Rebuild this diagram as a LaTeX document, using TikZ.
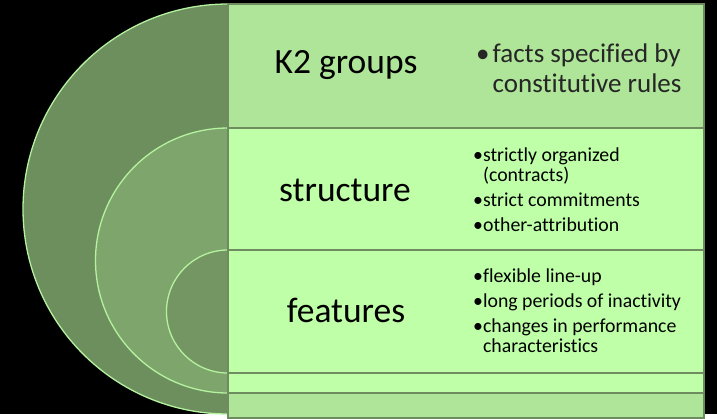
\documentclass[tikz,border=0pt]{standalone}
\usepackage{fontspec}
\setmainfont{Carlito}[Ligatures=NoCommon]
\usetikzlibrary{positioning}
\definecolor{ringdark}{HTML}{6D8F5E}
\definecolor{ringmid}{HTML}{7EA66C}
\definecolor{ringin}{HTML}{749663}
\definecolor{ringline}{HTML}{B5F29F}
\definecolor{barfill}{HTML}{AEE598}
\definecolor{barlight}{HTML}{BEFFA8}
\definecolor{barline}{HTML}{6E8C5F}

\begin{document}
\begin{tikzpicture}[x=1pt,y=-1pt,
    ring/.style={draw=ringline,line width=1.3pt},
    bar/.style={draw=barline,line width=1.5pt},
    head/.style={font=\fontsize{35.5}{38}\selectfont,text=black,inner sep=0pt,anchor=base},
    big/.style={font=\fontsize{27}{30}\selectfont,text=black!85,align=left,inner sep=0pt,anchor=base west},
    pts/.style={font=\fontsize{19.8}{20}\selectfont,text=black,align=left,inner sep=0pt,anchor=base west}]
   \fill[black] (0,0) rectangle (717,414);
   % half discs, biggest first
   \filldraw[ring,fill=ringdark] (228,4) arc[start angle=270,end angle=90,radius=205] -- cycle;
   \filldraw[ring,fill=ringmid] (228,128) arc[start angle=270,end angle=90,radius=132.5] -- cycle;
   \filldraw[ring,fill=ringin] (228,250) arc[start angle=270,end angle=90,radius=61.5] -- cycle;
   % text bars
   \draw[bar,fill=barfill] (228,4) rectangle (704,418);
   \draw[bar,fill=barlight] (228,128) rectangle (704,393);
   \draw[bar,fill=barlight] (228,250) rectangle (704,373);
   % labels (multi-line ones sit on their last baseline)
   \node[head] (k2) at (346,73) {K2 groups};
   \node[head] (struct) at (345,201) {structure};
   \node[head] (feat) at (346,322) {features};
   \node[big] (k2txt) at (476,92) {\textbullet\hspace{3pt}facts specified by\\\phantom{\textbullet}\hspace{3pt}constitutive rules};
   \node[pts] (structtxt) at (473,231) {\textbullet strictly organized\\\phantom{\textbullet}(contracts)\\[5pt]\textbullet strict commitments\\[5pt]\textbullet other-attribution};
   \node[pts] (feattxt) at (473,352) {\textbullet flexible line-up\\[5pt]\textbullet long periods of inactivity\\[5pt]\textbullet changes in performance\\\phantom{\textbullet}characteristics};
\end{tikzpicture}
\end{document}
